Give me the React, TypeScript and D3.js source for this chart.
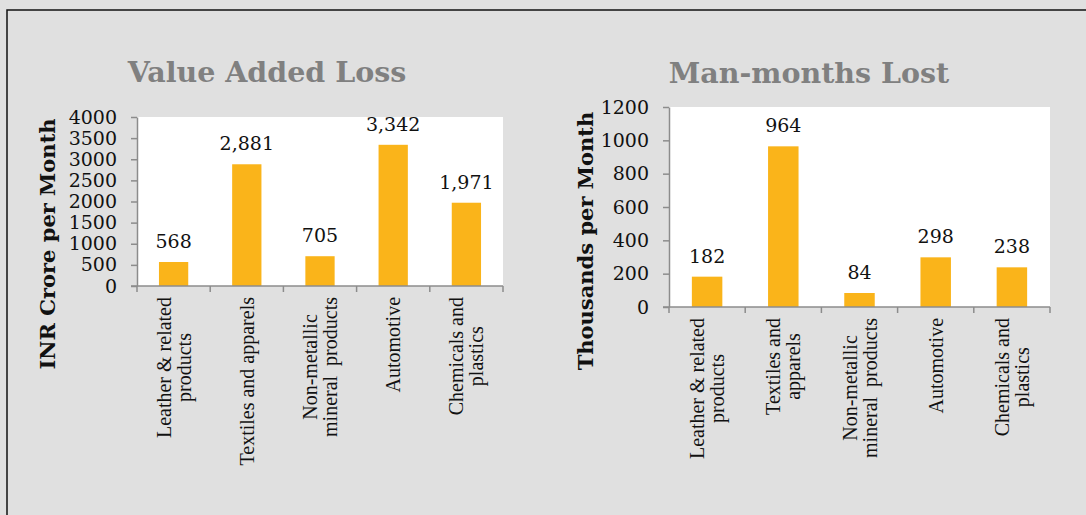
import * as d3 from "d3";
import React, { useRef, useEffect } from "react";

const W = 1086;
const H = 515;

// left chart data
const vaCategories = [
  ["Leather & related", "products"],
  ["Textiles and apparels"],
  ["Non-metallic", "mineral  products"],
  ["Automotive"],
  ["Chemicals and", "plastics"],
];
const vaValues = [568, 2881, 705, 3342, 1971];
const vaTicks = [0, 500, 1000, 1500, 2000, 2500, 3000, 3500, 4000];

// right chart data
const mmCategories = [
  ["Leather & related", "products"],
  ["Textiles and", "apparels"],
  ["Non-metallic", "mineral  products"],
  ["Automotive"],
  ["Chemicals and", "plastics"],
];
const mmValues = [182, 964, 84, 298, 238];
const mmTicks = [0, 200, 400, 600, 800, 1000, 1200];

const charts = [
  {
    title: "Value Added Loss",
    yTitle: "INR Crore per Month",
    cats: vaCategories,
    vals: vaValues,
    ticks: vaTicks,
    box: { left: 137, right: 503, top: 117, bottom: 286 },
    titleX: 267,
    titleY: 82,
    yTitleX: 47,
    yTitleY: 244,
  },
  {
    title: "Man-months Lost",
    yTitle: "Thousands per Month",
    cats: mmCategories,
    vals: mmValues,
    ticks: mmTicks,
    box: { left: 669, right: 1050, top: 107, bottom: 307 },
    titleX: 809,
    titleY: 83,
    yTitleX: 585,
    yTitleY: 241,
  },
];

const barColor = "#fab41a";
const axisColor = "#8c8c8c";
const serif = "'DejaVu Serif', serif";
const times = "'Liberation Serif', 'Times New Roman', serif";

export default function App() {
  const ref = useRef(null);

  useEffect(() => {
    const svg = d3.select(ref.current);
    svg.selectAll("*").remove();

    svg.append("rect").attr("width", W).attr("height", H).attr("fill", "#e0e0e0");

    // outer frame (top and left only visible)
    svg
      .append("path")
      .attr("d", `M7,${H} L7,10 L${W},10`)
      .attr("fill", "none")
      .attr("stroke", "#111")
      .attr("stroke-width", 1.5);

    charts.forEach((c) => {
      const g = svg.append("g");
      const b = c.box;

      const x = d3
        .scaleBand()
        .domain(c.cats.map((_, i) => String(i)))
        .range([b.left, b.right])
        .paddingInner(0)
        .paddingOuter(0);
      const y = d3
        .scaleLinear()
        .domain([0, c.ticks[c.ticks.length - 1]])
        .range([b.bottom, b.top]);

      // plot area
      g.append("rect")
        .attr("x", b.left)
        .attr("y", b.top)
        .attr("width", b.right - b.left)
        .attr("height", b.bottom - b.top)
        .attr("fill", "#fff");

      // bars
      const bw = x.bandwidth() * 0.4;
      g.selectAll(".bar")
        .data(c.vals)
        .join("rect")
        .attr("class", "bar")
        .attr("x", (_, i) => x(String(i))! + (x.bandwidth() - bw) / 2)
        .attr("y", (d) => y(d))
        .attr("width", bw)
        .attr("height", (d) => y(0) - y(d))
        .attr("fill", barColor);

      // data labels
      g.selectAll(".dl")
        .data(c.vals)
        .join("text")
        .attr("class", "dl")
        .attr("x", (_, i) => x(String(i))! + x.bandwidth() / 2)
        .attr("y", (d) => y(d) - 14)
        .attr("text-anchor", "middle")
        .style("font-family", serif)
        .style("font-size", "19px")
        .attr("fill", "#111")
        .text((d) => d3.format(",")(d));

      // y axis
      const yAxis = g
        .append("g")
        .attr("transform", `translate(${b.left},0)`)
        .call(
          d3
            .axisLeft(y)
            .tickValues(c.ticks)
            .tickFormat(d3.format("d") as any)
            .tickSize(6)
            .tickPadding(14)
            .tickSizeOuter(0)
        );
      yAxis.select(".domain").attr("stroke", axisColor).attr("stroke-width", 1.5);
      yAxis.selectAll(".tick line").attr("stroke", axisColor).attr("stroke-width", 1.5);
      yAxis
        .selectAll(".tick text")
        .style("font-family", serif)
        .style("font-size", "19px")
        .attr("fill", "#111");

      // x axis
      const xAxisLine = g.append("g");
      xAxisLine
        .append("line")
        .attr("x1", b.left - 6)
        .attr("x2", b.right)
        .attr("y1", b.bottom)
        .attr("y2", b.bottom)
        .attr("stroke", axisColor)
        .attr("stroke-width", 1.5);
      const bounds = c.cats.map((_, i) => x(String(i))!).concat([b.right]);
      xAxisLine
        .selectAll(".xt")
        .data(bounds)
        .join("line")
        .attr("x1", (d) => d)
        .attr("x2", (d) => d)
        .attr("y1", b.bottom)
        .attr("y2", b.bottom + 6)
        .attr("stroke", axisColor)
        .attr("stroke-width", 1.5);

      // category labels, rotated, lines centred, block top at axis
      const lh = 20;
      c.cats.forEach((lines, i) => {
        const cx = x(String(i))! + x.bandwidth() / 2;
        const lg = g.append("g");
        const texts = lines.map((ln) =>
          lg
            .append("text")
            .attr("text-anchor", "middle")
            .style("font-family", times)
            .style("font-size", "20px")
            .style("white-space", "pre")
            .attr("fill", "#111")
            .text(ln)
        );
        const maxW = d3.max(texts, (t) => (t.node() as any).getComputedTextLength()) as number;
        const cy = b.bottom + 11 + maxW / 2;
        texts.forEach((t, j) => {
          const off = (j - (lines.length - 1) / 2) * lh + 7;
          t.attr("transform", `translate(${cx + off},${cy}) rotate(-90)`);
        });
      });

      // chart title
      g.append("text")
        .attr("x", c.titleX)
        .attr("y", c.titleY)
        .attr("text-anchor", "middle")
        .style("font-family", serif)
        .style("font-weight", "bold")
        .style("font-size", "28.5px")
        .attr("fill", "#808080")
        .text(c.title);

      // y title
      g.append("text")
        .attr("transform", `translate(${c.yTitleX + 8},${c.yTitleY}) rotate(-90)`)
        .attr("text-anchor", "middle")
        .style("font-family", serif)
        .style("font-weight", "bold")
        .style("font-size", "21px")
        .attr("fill", "#111")
        .text(c.yTitle);
    });
  }, []);

  return (
    <div style={{ position: "absolute", left: 0, top: 0 }}>
      <svg ref={ref} width={W} height={H} style={{ display: "block" }}></svg>
    </div>
  );
}
